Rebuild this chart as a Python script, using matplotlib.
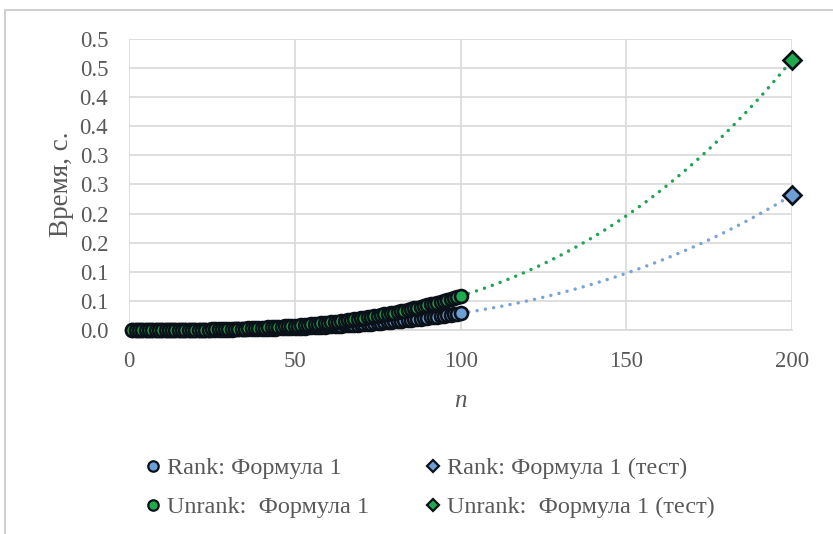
import numpy as np
import matplotlib
matplotlib.use("Agg")
import matplotlib.pyplot as plt
from matplotlib.ticker import FixedLocator, FuncFormatter
from matplotlib.patches import Rectangle
from matplotlib.lines import Line2D
from decimal import Decimal, ROUND_HALF_UP

# Problem size n
n_values = list(range(1, 101))

# Time of Rank by formula 1, seconds
rank_time = [
    0.00000, 0.00000, 0.00000, 0.00000, 0.00000, 0.00001, 0.00001, 0.00001, 0.00002, 0.00003,
    0.00004, 0.00005, 0.00006, 0.00008, 0.00010, 0.00012, 0.00014, 0.00017, 0.00020, 0.00023,
    0.00027, 0.00031, 0.00035, 0.00040, 0.00045, 0.00050, 0.00056, 0.00063, 0.00070, 0.00077,
    0.00086, 0.00094, 0.00103, 0.00113, 0.00123, 0.00134, 0.00145, 0.00157, 0.00170, 0.00184,
    0.00198, 0.00213, 0.00228, 0.00244, 0.00262, 0.00279, 0.00298, 0.00317, 0.00338, 0.00359,
    0.00381, 0.00404, 0.00427, 0.00452, 0.00478, 0.00504, 0.00532, 0.00560, 0.00589, 0.00620,
    0.00651, 0.00684, 0.00718, 0.00752, 0.00788, 0.00825, 0.00863, 0.00902, 0.00943, 0.00984,
    0.01027, 0.01071, 0.01116, 0.01163, 0.01211, 0.01260, 0.01310, 0.01362, 0.01415, 0.01469,
    0.01525, 0.01582, 0.01641, 0.01701, 0.01763, 0.01825, 0.01890, 0.01956, 0.02023, 0.02092,
    0.02163, 0.02235, 0.02309, 0.02384, 0.02461, 0.02539, 0.02619, 0.02701, 0.02785, 0.02870,
]

# Time of Unrank by formula 1, seconds
unrank_time = [
    0.00000, 0.00000, 0.00000, 0.00000, 0.00001, 0.00001, 0.00002, 0.00003, 0.00004, 0.00006,
    0.00008, 0.00010, 0.00013, 0.00016, 0.00020, 0.00024, 0.00029, 0.00034, 0.00040, 0.00047,
    0.00054, 0.00062, 0.00071, 0.00081, 0.00091, 0.00103, 0.00115, 0.00128, 0.00142, 0.00158,
    0.00174, 0.00191, 0.00210, 0.00230, 0.00250, 0.00272, 0.00296, 0.00320, 0.00346, 0.00374,
    0.00402, 0.00433, 0.00464, 0.00497, 0.00532, 0.00568, 0.00606, 0.00646, 0.00687, 0.00730,
    0.00775, 0.00821, 0.00869, 0.00920, 0.00972, 0.01026, 0.01082, 0.01139, 0.01199, 0.01261,
    0.01326, 0.01392, 0.01460, 0.01531, 0.01604, 0.01679, 0.01756, 0.01836, 0.01918, 0.02003,
    0.02090, 0.02180, 0.02272, 0.02367, 0.02464, 0.02564, 0.02666, 0.02771, 0.02879, 0.02990,
    0.03104, 0.03220, 0.03339, 0.03461, 0.03586, 0.03715, 0.03846, 0.03980, 0.04117, 0.04257,
    0.04401, 0.04548, 0.04697, 0.04851, 0.05007, 0.05167, 0.05330, 0.05497, 0.05667, 0.05840,
]

# Test runs
n_test = [200]
rank_test = [0.232]
unrank_test = [0.464]

x_ticks = [0, 50, 100, 150, 200]
y_ticks = [0.00, 0.05, 0.10, 0.15, 0.20, 0.25, 0.30, 0.35, 0.40, 0.45, 0.50]

labels_formula = ["Rank: Формула 1", "Unrank:  Формула 1"]
labels_test = ["Rank: Формула 1 (тест)", "Unrank:  Формула 1 (тест)"]

plt.rcParams["font.family"] = ["Liberation Serif", "DejaVu Serif"]

BLUE = "#6b9fd6"
GREEN = "#1faa4e"
EDGE = "#0b1118"
BLUE_LINE = "#7aa3d6"
GREEN_LINE = "#22a356"
GRID = "#d9d9d9"
TEXT = "#595959"

fig = plt.figure(figsize=(8.33, 5.34), dpi=100)
ax = fig.add_axes([0.1549, 0.382, 0.796, 0.545])

# Frame of the chart area
fig.patches.append(Rectangle((5 / 833, -0.05), 1.1, 1 - 10 / 534 + 0.05,
                             transform=fig.transFigure, fill=False,
                             edgecolor="#d0d0d0", linewidth=1.5, zorder=0))

# Dotted cubic trend from n=100 to the test point
for times, test, color in [(rank_time, rank_test, BLUE_LINE),
                           (unrank_time, unrank_test, GREEN_LINE)]:
    xs = np.array(n_values + n_test, dtype=float)
    ys = np.array(times + test, dtype=float)
    coef = np.polyfit(xs, ys, 3)
    xx = np.linspace(n_values[-1], n_test[-1], 200)
    ax.plot(xx, np.polyval(coef, xx), color=color, lw=2.5,
            linestyle=(0, (0.01, 2.4)), dash_capstyle="round", zorder=2)

ax.plot(n_values, rank_time, "o", ms=9.3, mfc=BLUE, mec=EDGE, mew=1.9,
        ls="none", zorder=3)
ax.plot(n_values, unrank_time, "o", ms=9.3, mfc=GREEN, mec=EDGE, mew=1.9,
        ls="none", zorder=4)
ax.plot(n_test, rank_test, "D", ms=9.5, mfc=BLUE, mec=EDGE, mew=1.9,
        ls="none", zorder=5)
ax.plot(n_test, unrank_test, "D", ms=9.5, mfc=GREEN, mec=EDGE, mew=1.9,
        ls="none", zorder=5)

ax.set_xlim(x_ticks[0], x_ticks[-1])
ax.set_ylim(y_ticks[0], y_ticks[-1])
ax.xaxis.set_major_locator(FixedLocator(x_ticks))
ax.yaxis.set_major_locator(FixedLocator(y_ticks))


def one_decimal(v, pos):
    return str(Decimal(str(round(v, 2))).quantize(Decimal("0.1"), rounding=ROUND_HALF_UP))


ax.yaxis.set_major_formatter(FuncFormatter(one_decimal))
ax.grid(True, color=GRID, linewidth=1.2, zorder=0)
ax.set_axisbelow(True)
for side in ["top", "right", "left"]:
    ax.spines[side].set_visible(False)
ax.spines["bottom"].set_color(GRID)
ax.spines["bottom"].set_linewidth(1.2)
ax.tick_params(axis="both", length=0, labelsize=16.5, labelcolor=TEXT)
ax.tick_params(axis="y", pad=15)
ax.tick_params(axis="x", pad=15)
for line in ax.lines:
    line.set_clip_on(False)

ax.set_ylabel("Время, с.", fontsize=19.5, color=TEXT, labelpad=4)
ax.set_xlabel("n", fontsize=18, color=TEXT, style="italic", labelpad=13)

# Legend: two columns placed side by side
circle_handles = [
    Line2D([], [], marker="o", ls="none", ms=7.5, mfc=BLUE, mec=EDGE, mew=1.6),
    Line2D([], [], marker="o", ls="none", ms=7.5, mfc=GREEN, mec=EDGE, mew=1.6),
]
diamond_handles = [
    Line2D([], [], marker="D", ls="none", ms=6.5, mfc=BLUE, mec=EDGE, mew=1.6),
    Line2D([], [], marker="D", ls="none", ms=6.5, mfc=GREEN, mec=EDGE, mew=1.6),
]
legend_kw = dict(loc="upper left", frameon=False, fontsize=17.5, labelcolor=TEXT,
                 handlelength=0.8, handletextpad=0.18, labelspacing=0.7,
                 borderaxespad=0, borderpad=0, bbox_transform=fig.transFigure)
fig.legend(circle_handles, labels_formula, bbox_to_anchor=(143 / 833, 1 - 457 / 534),
           **legend_kw)
fig.legend(diamond_handles, labels_test, bbox_to_anchor=(423 / 833, 1 - 457 / 534),
           **legend_kw)

fig.savefig("out.png", dpi=100)
